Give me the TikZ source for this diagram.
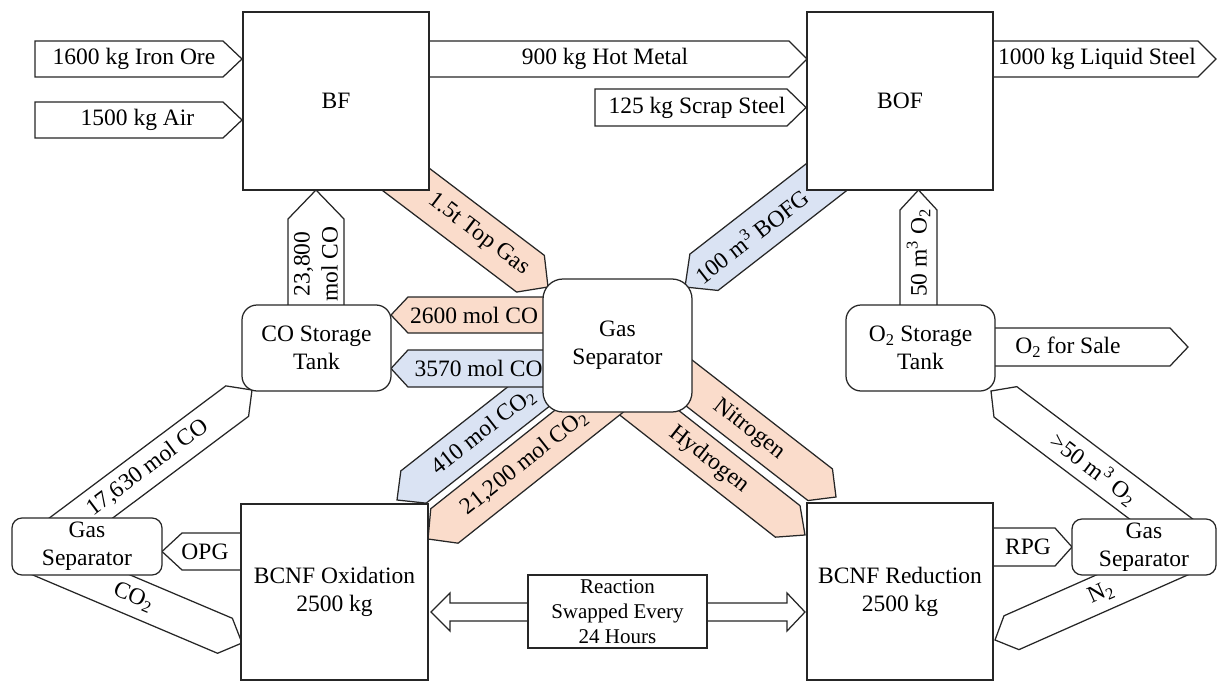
\documentclass[tikz,border=0pt]{standalone}
\usepackage{fontspec}
\setmainfont{Liberation Serif}
\usetikzlibrary{calc}
\definecolor{peach}{HTML}{FADCCB}
\definecolor{paleblue}{HTML}{DAE3F3}
\newcommand\mainsz{\fontsize{23.5}{28}\selectfont}
\newcommand\smallsz{\fontsize{21}{25}\selectfont}
\tikzset{
  ln/.style={line width=1.25pt, draw=black!85, line join=miter},
  arrW/.style={ln, fill=white},
  arrO/.style={ln, fill=peach},
  arrB/.style={ln, fill=paleblue},
  unit/.style={ln, fill=white, rectangle, inner sep=0pt, align=center, font=\mainsz},
  tank/.style={unit, rounded corners=15pt},
  lbl/.style={inner sep=0pt, align=center, font=\mainsz},
}
% #1 style, #2 tail, #3 tip, #4 half width, #5 head length, #6 label distance from tip, #7 label options, #8 text
\newcommand\flowarrow[8]{%
  \coordinate (fa-hb) at ($(#3)!#5!(#2)$);
  \draw[#1] ($(#2)!#4!90:(#3)$) -- ($(fa-hb)!#4!-90:(#2)$) -- (#3)
     -- ($(fa-hb)!#4!90:(#2)$) -- ($(#2)!#4!-90:(#3)$) -- cycle;
  \path ($(#3)!#6!(#2)$) -- (#3) node[pos=0, sloped, lbl, #7] {#8};
}
\begin{document}
\begin{tikzpicture}[x=1pt,y=-1pt]
\useasboundingbox (0,0) rectangle (1217,682);

% ---- connector end points ----
\coordinate (ioT) at (35,59);        \coordinate (ioH) at (242,59);
\coordinate (airT) at (35,120);      \coordinate (airH) at (242,120);
\coordinate (hmT) at (420,59);       \coordinate (hmH) at (807,59);
\coordinate (ssT) at (595,107.5);    \coordinate (ssH) at (806,107.5);
\coordinate (lsT) at (985,59);       \coordinate (lsH) at (1216,59);
\coordinate (tgT) at (379,159);      \coordinate (tgH) at (548,287);
\coordinate (bgT) at (855,155);      \coordinate (bgH) at (685,287);
\coordinate (niT) at (662,362);      \coordinate (niH) at (836,497);
\coordinate (hyT) at (610,382);      \coordinate (hyH) at (805,535);
\coordinate (caT) at (570,364);      \coordinate (caH) at (397,500);
\coordinate (cbT) at (617,389);      \coordinate (cbH) at (428,539);
\coordinate (c26T) at (560,315);     \coordinate (c26H) at (391,315);
\coordinate (c35T) at (560,368.5);   \coordinate (c35H) at (391,368.5);
\coordinate (c23T) at (316,330);     \coordinate (c23H) at (316,190);
\coordinate (o50T) at (918.5,330);   \coordinate (o50H) at (918.5,190);
\coordinate (saT) at (985,347);      \coordinate (saH) at (1188,347);
\coordinate (c17T) at (53,539);      \coordinate (c17H) at (252,390);
\coordinate (cdT) at (32,554);       \coordinate (cdH) at (242,643);
\coordinate (opT) at (260,551.5);    \coordinate (opH) at (162,551.5);
\coordinate (rpT) at (980,547);      \coordinate (rpH) at (1072,547);
\coordinate (orT) at (1189,540);     \coordinate (orH) at (991,391);
\coordinate (n2T) at (1195,551.5);   \coordinate (n2H) at (995,640);

% ---- block arrows ----
\flowarrow{arrW}{ioT}{ioH}{18pt}{19pt}{108pt}{}{1600 kg Iron Ore}
\flowarrow{arrW}{airT}{airH}{18pt}{19pt}{104.5pt}{}{1500 kg Air}
\flowarrow{arrW}{hmT}{hmH}{18pt}{18pt}{202pt}{}{900 kg Hot Metal}
\flowarrow{arrW}{ssT}{ssH}{18.5pt}{19pt}{109pt}{}{125 kg Scrap Steel}
\flowarrow{arrW}{lsT}{lsH}{18pt}{18pt}{119pt}{}{1000 kg Liquid Steel}
\flowarrow{arrO}{tgT}{tgH}{23pt}{22pt}{87pt}{}{1.5t Top Gas}
\flowarrow{arrB}{bgT}{bgH}{23pt}{24pt}{84pt}{}{100 m\textsuperscript{3} BOFG}
\flowarrow{arrO}{niT}{niH}{20pt}{20pt}{110pt}{}{Nitrogen}
\flowarrow{arrO}{hyT}{hyH}{20pt}{22pt}{122pt}{}{Hydrogen}
\flowarrow{arrB}{caT}{caH}{20.5pt}{21pt}{110pt}{}{410 mol CO\textsubscript{2}}
\flowarrow{arrO}{cbT}{cbH}{22pt}{21pt}{123pt}{}{21,200 mol CO\textsubscript{2}}
\flowarrow{arrO}{c26T}{c26H}{18pt}{17pt}{83pt}{}{2600 mol CO}
\flowarrow{arrB}{c35T}{c35H}{18.5pt}{17pt}{87.5pt}{}{3570 mol CO}
\flowarrow{arrW}{c23T}{c23H}{28pt}{29pt}{74pt}{allow upside down}{23,800\\mol CO}
\flowarrow{arrW}{o50T}{o50H}{18.5pt}{20pt}{63pt}{allow upside down}{50 m\textsuperscript{3} O\textsubscript{2}}
\flowarrow{arrW}{saT}{saH}{19pt}{18pt}{120pt}{}{O\textsubscript{2} for Sale}
\flowarrow{arrW}{c17T}{c17H}{19pt}{18.5pt}{130pt}{}{17,630 mol CO}
\flowarrow{arrW}{cdT}{cdH}{19pt}{18.5pt}{118pt}{}{CO\textsubscript{2}}
\flowarrow{arrW}{opT}{opH}{18.5pt}{20pt}{43pt}{}{OPG}
\flowarrow{arrW}{rpT}{rpH}{19pt}{17pt}{44pt}{}{RPG}
\flowarrow{arrW}{orT}{orH}{19pt}{18pt}{129pt}{}{>50 m\textsuperscript{3} O\textsubscript{2}}
\flowarrow{arrW}{n2T}{n2H}{18.5pt}{18pt}{116pt}{}{N\textsubscript{2}}

% ---- units ----
\node[unit, minimum width=186pt, minimum height=178pt] (bf) at (336,101) {BF};
\node[unit, minimum width=186pt, minimum height=178pt] (bof) at (900,101) {BOF};
\node[unit, minimum width=187pt, minimum height=176pt] (ox) at (334.5,592) {BCNF Oxidation\\2500 kg};
\node[unit, minimum width=186pt, minimum height=177pt] (red) at (900,591.5) {BCNF Reduction\\2500 kg};
\node[unit, rounded corners=20pt, minimum width=149pt, minimum height=133pt] (sep) at (617.5,345.5) {Gas\\Separator};
\node[tank, minimum width=149pt, minimum height=86pt] (cotank) at (316.5,348) {CO Storage\\Tank};
\node[tank, minimum width=149pt, minimum height=86pt] (otank) at (920.5,348) {O\textsubscript{2} Storage\\Tank};
\node[unit, rounded corners=10pt, minimum width=150pt, minimum height=57pt] (lsep) at (87,546.5) {Gas\\Separator};
\node[unit, rounded corners=10pt, minimum width=144pt, minimum height=56pt] (rsep) at (1144,547) {Gas\\Separator};

% ---- swap arrow ----
\coordinate (swL) at (431,612); \coordinate (swR) at (805,612);
\draw[arrW] (swL) -- ++(19,-19) -- ++(0,10) -- ($(swR)+(-18,-9)$) -- ++(0,-10) -- (swR)
  -- ++(-18,19) -- ++(0,-10) -- ($(swL)+(19,9)$) -- ++(0,10) -- cycle;
\node[unit, font=\smallsz, minimum width=179pt, minimum height=73pt] (swap) at (617.5,611.5) {Reaction\\Swapped Every\\24 Hours};
\end{tikzpicture}
\end{document}
